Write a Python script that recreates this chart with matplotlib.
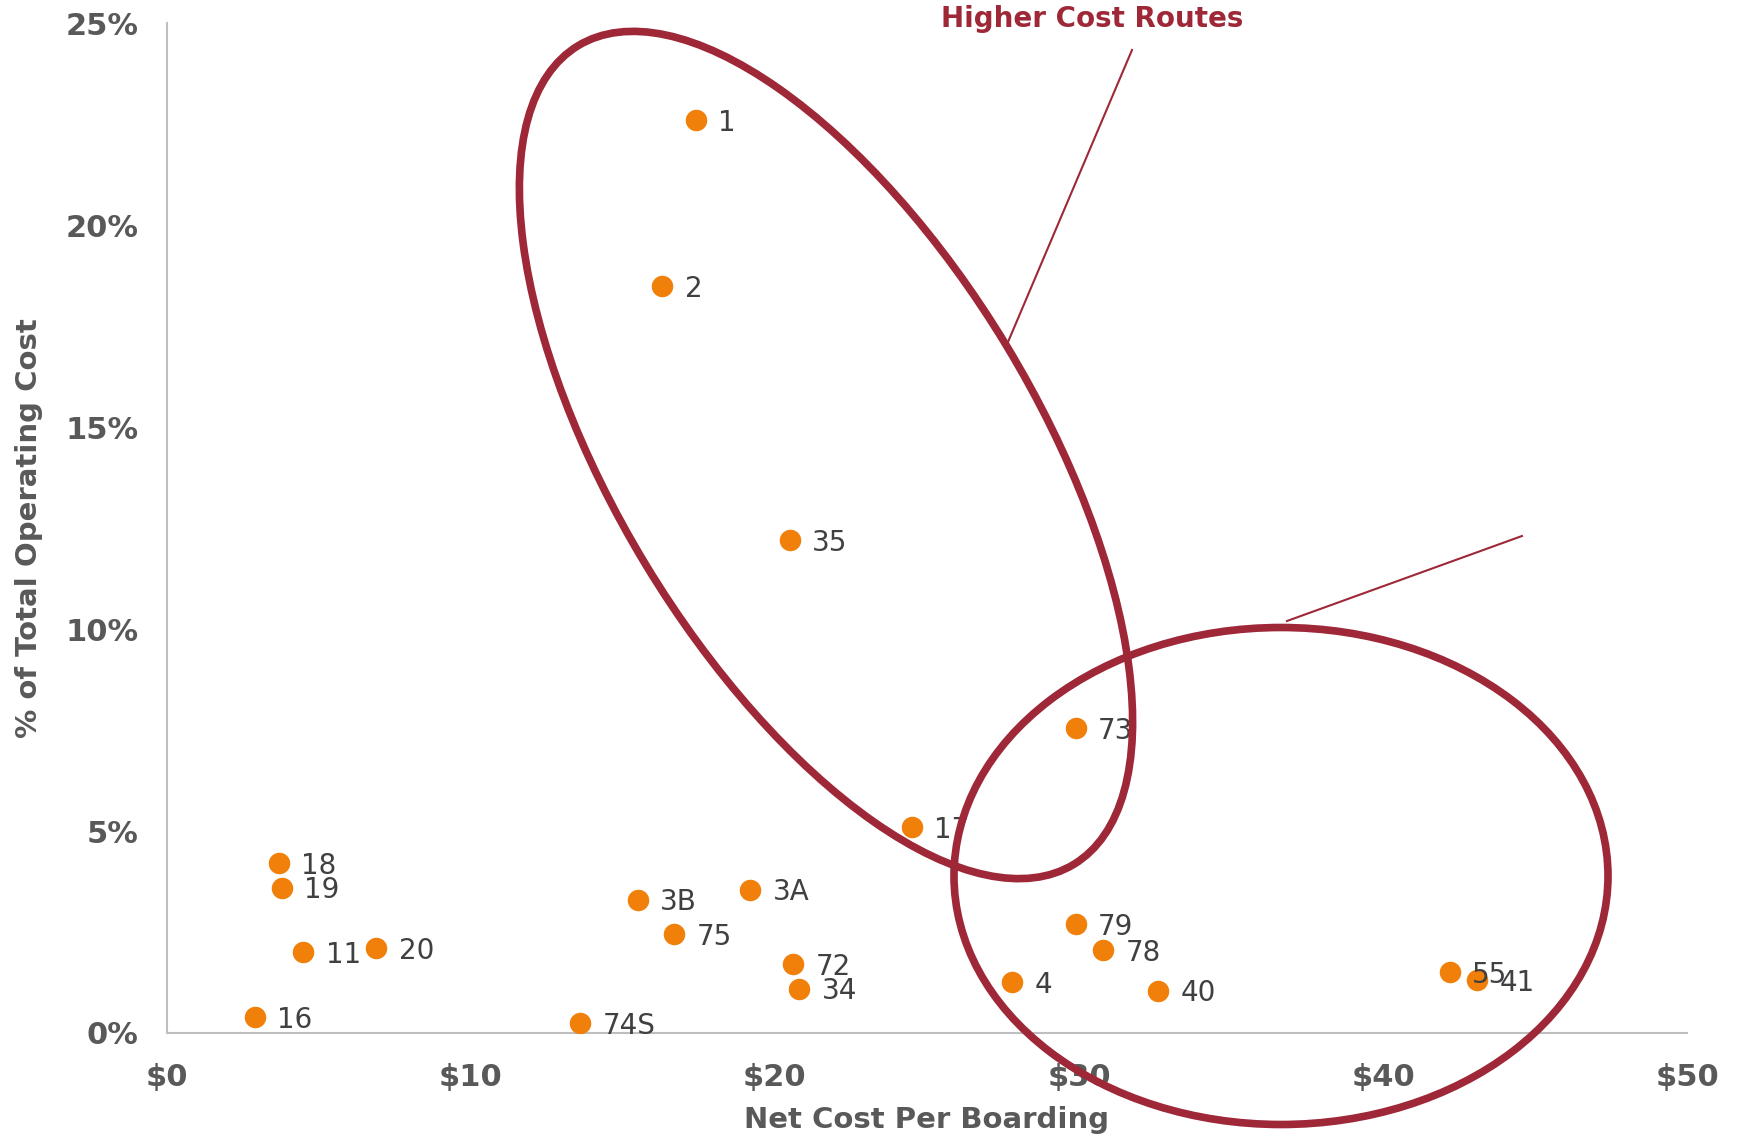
import matplotlib.pyplot as plt
from matplotlib.patches import Ellipse
from matplotlib.lines import Line2D
from matplotlib.transforms import IdentityTransform
from matplotlib.ticker import FuncFormatter

# route numbers, net cost per boarding ($) and share of total operating cost (%)
routes = ['1', '2', '35', '73', '17', '18', '19', '3B', '3A', '75', '11', '20',
          '72', '34', '16', '74S', '4', '79', '78', '40', '55', '41']
cost_per_boarding = [17.4, 16.3, 20.5, 29.9, 24.5, 3.7, 3.8, 15.5, 19.2, 16.7, 4.5, 6.9,
                     20.6, 20.8, 2.9, 13.6, 27.8, 29.9, 30.8, 32.6, 42.2, 43.1]
pct_operating_cost = [22.6, 18.5, 12.2, 7.55, 5.1, 4.2, 3.6, 3.3, 3.55, 2.45, 2.0, 2.1,
                      1.7, 1.1, 0.4, 0.25, 1.25, 2.7, 2.05, 1.05, 1.5, 1.3]

x_ticks = [0, 10, 20, 30, 40, 50]
y_ticks = [0, 5, 10, 15, 20, 25]

GRAY = '#595959'
RED = '#9E2837'
ORANGE = '#F0800A'

fig = plt.figure(figsize=(17.4, 11.42), dpi=100)
ax = fig.add_axes([0.0957, 0.0955, 0.874, 0.884])

ax.scatter(cost_per_boarding, pct_operating_cost, s=240, color=ORANGE, zorder=3, linewidths=0)
for r, xv, yv in zip(routes, cost_per_boarding, pct_operating_cost):
    ax.annotate(r, (xv, yv), xytext=(16, -2), textcoords='offset points',
                ha='left', va='center', fontsize=20, color='#404040', zorder=4)

ax.set_xlim(0, 50)
ax.set_ylim(0, 25)
ax.set_xticks(x_ticks)
ax.set_yticks(y_ticks)
ax.xaxis.set_major_formatter(FuncFormatter(lambda v, p: f'${v:.0f}'))
ax.yaxis.set_major_formatter(FuncFormatter(lambda v, p: f'{v:.0f}%'))
ax.tick_params(length=0, labelsize=22, labelcolor=GRAY)
ax.tick_params(axis='x', pad=22)
ax.tick_params(axis='y', pad=20)
for lab in ax.get_xticklabels() + ax.get_yticklabels():
    lab.set_fontweight('bold')

for s in ['top', 'right']:
    ax.spines[s].set_visible(False)
for s in ['left', 'bottom']:
    ax.spines[s].set_color('#BFBFBF')
    ax.spines[s].set_linewidth(1.5)

ax.set_xlabel('Net Cost Per Boarding', fontsize=21, fontweight='bold', color=GRAY, labelpad=10)
ax.set_ylabel('% of Total Operating Cost', fontsize=21, fontweight='bold', color=GRAY, labelpad=16)

# callout ellipses and leader lines, in output pixels (y measured from bottom)
H = 1142
ell1 = Ellipse((826, H - 455), 957, 422, angle=-58.8, fill=False, edgecolor=RED,
               linewidth=5.5, transform=IdentityTransform(), zorder=5)
ell2 = Ellipse((1281, H - 876), 654, 497, angle=0, fill=False, edgecolor=RED,
               linewidth=5.5, transform=IdentityTransform(), zorder=5)
fig.patches.extend([ell1, ell2])
fig.lines.append(Line2D([1008, 1132], [H - 342, H - 50], color=RED, linewidth=1.5,
                        transform=IdentityTransform()))
fig.lines.append(Line2D([1287, 1522], [H - 621, H - 536], color=RED, linewidth=1.5,
                        transform=IdentityTransform()))
fig.text(1092 / 1740, 1 - 19 / H, 'Higher Cost Routes', ha='center', va='center',
         fontsize=20, fontweight='bold', color=RED)

fig.savefig('out.png', dpi=100)
